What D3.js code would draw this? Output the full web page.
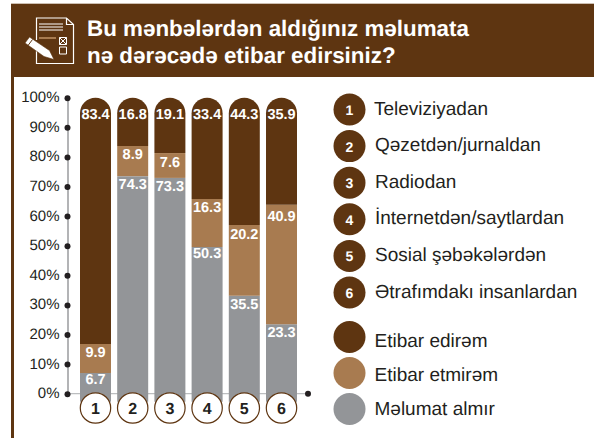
<!DOCTYPE html>
<meta charset="utf-8">
<style>
  html, body { margin: 0; padding: 0; background: #fff; }
  svg { display: block; font-family: "Liberation Sans", Arial, sans-serif; text-rendering: geometricPrecision; }
</style>
<script src="https://d3js.org/d3.v7.min.js"></script>
<div id="chart"></div>
<script>
// printed values, as labelled on the picture
var sources = ["1", "2", "3", "4", "5", "6"];
var noInfo = [6.7, 74.3, 73.3, 50.3, 35.5, 23.3];
var noTrust = [9.9, 8.9, 7.6, 16.3, 20.2, 40.9];
var trust = [83.4, 16.8, 19.1, 33.4, 44.3, 35.9];
// bar heights as they are drawn in the picture, not quite the same as the labels
var noInfoDrawn = [7.0, 73.5, 72.9, 49.6, 33.1, 23.5];
var noTrustDrawn = [9.8, 10.2, 8.4, 16.2, 23.9, 40.3];
var trustDrawn = [83.2, 16.3, 18.7, 34.2, 43.0, 36.2];
var yTicks = [0, 10, 20, 30, 40, 50, 60, 70, 80, 90, 100];
var sourceNames = ["Televiziyadan", "Qəzetdən/jurnaldan", "Radiodan", "İnternetdən/saytlardan", "Sosial şəbəkələrdən", "Ətrafımdakı insanlardan"];
var answerNames = ["Etibar edirəm", "Etibar etmirəm", "Məlumat almır"];
var titleLines = ["Bu mənbələrdən aldığınız məlumata", "nə dərəcədə etibar edirsiniz?"];

var brown = "#5e3511", tan = "#a87b50", grey = "#939598", ink = "#231f20";

var svg = d3.select("#chart").append("svg")
  .attr("width", 594)
  .attr("height", 438);

// header band and left edge
svg.append("rect").attr("x", 11).attr("y", 3).attr("width", 583).attr("height", 1).attr("fill", "#cdbfb2");
svg.append("rect").attr("x", 11).attr("y", 4).attr("width", 583).attr("height", 73).attr("fill", brown);
svg.append("rect").attr("x", 11).attr("y", 77).attr("width", 3).attr("height", 361).attr("fill", brown);

svg.selectAll(".title")
  .data(titleLines)
  .enter().append("text")
    .attr("class", "title")
    .attr("x", 87)
    .attr("y", function(d, i) { return 36 + i * 27; })
    .attr("fill", "#fff")
    .attr("font-size", 22.4)
    .attr("font-weight", "bold")
    .text(function(d) { return d; });

// form and pencil icon
var icon = svg.append("g").attr("fill", "none").attr("stroke", "#fff");
icon.append("path").attr("stroke-width", 1.2)
  .attr("d", "M36.5 40V18h30l7 6.5v39H36.5V50M66.5 18v6.5h7");
icon.append("path").attr("stroke-width", 1)
  .attr("d", "M39 24h24M39 27h24M39 30h24");
icon.append("path").attr("stroke", tan).attr("stroke-width", 2).attr("d", "M39 38h17");
icon.append("path").attr("stroke-width", 1)
  .attr("d", "M59.5 37.5h7v7h-7zM59.5 37.5l7 7M66.5 37.5l-7 7M59.5 47h7v7h-7z");
icon.append("path").attr("fill", "#fff").attr("stroke", brown).attr("stroke-width", 0.6)
  .attr("d", "M25 43l4.5-6 20 13.5 4.5 9-10-3z");
icon.append("path").attr("stroke", brown).attr("stroke-width", 1).attr("d", "M28 45.5l4.5-6");

// scales
var x = d3.scaleBand()
  .domain(sources)
  .range([80, 297])
  .paddingInner(0.167);

var y = d3.scaleLinear()
  .domain([0, 100])
  .range([393.7, 97.7]);

// x axis line goes under the bars
svg.append("line")
  .attr("x1", 67.5).attr("x2", 308)
  .attr("y1", y(0)).attr("y2", y(0))
  .attr("stroke", "#bcbec0")
  .attr("stroke-width", 1.2);
svg.append("circle").attr("cx", 308).attr("cy", y(0)).attr("r", 3).attr("fill", ink);

// y axis
var yAxis = svg.append("g")
  .attr("transform", "translate(67.5,0)")
  .call(d3.axisLeft(y).tickValues(yTicks).tickFormat(function(d) { return d + "%"; }).tickSize(0).tickPadding(8));
yAxis.select(".domain").attr("stroke", "#808285").attr("stroke-width", 1.2);
yAxis.selectAll(".tick text")
  .attr("font-family", "Liberation Sans")
  .attr("font-size", 15)
  .attr("dy", "0.27em")
  .attr("fill", ink);
yAxis.selectAll(".tick").append("circle").attr("r", 3).attr("fill", ink);

// stacked bars, bottom series first
var table = sources.map(function(s, i) {
  return {
    source: s,
    noInfo: noInfoDrawn[i],
    noTrust: noTrustDrawn[i],
    trust: trustDrawn[i],
    labels: {noInfo: noInfo[i], noTrust: noTrust[i], trust: trust[i]}
  };
});
var stack = d3.stack().keys(["noInfo", "noTrust", "trust"])(table);
var colors = {noInfo: grey, noTrust: tan, trust: brown};
// small label shifts seen in the picture
var labelNudge = {noInfo: [-2, 0, 0, -2, 0, 0], noTrust: [0, 0, 1, 0, 1, 3], trust: [0, 0, 0, 0, 0, 0]};

function barPath(d, key) {
  var x0 = x(d.data.source), w = x.bandwidth(), r = w / 2;
  var top = y(d[1]), bottom = y(d[0]);
  if (key == "trust") {
    return "M" + x0 + "," + bottom + "V" + (top + r) + "A" + r + "," + r + " 0 0 1 " + (x0 + w) + "," + (top + r) + "V" + bottom + "Z";
  }
  // the grey part runs on down behind the number circle
  if (key == "noInfo") bottom += 8;
  return "M" + x0 + "," + bottom + "V" + top + "H" + (x0 + w) + "V" + bottom + "Z";
}

stack.forEach(function(layer) {
  svg.selectAll(".bar-" + layer.key)
    .data(layer)
    .enter().append("path")
      .attr("class", "bar-" + layer.key)
      .attr("fill", colors[layer.key])
      .attr("d", function(d) { return barPath(d, layer.key); });
});

stack.forEach(function(layer) {
  svg.selectAll(".val-" + layer.key)
    .data(layer)
    .enter().append("text")
      .attr("class", "val-" + layer.key)
      .attr("x", function(d) { return x(d.data.source) + x.bandwidth() / 2; })
      .attr("y", function(d, i) { return (layer.key == "trust" ? 118.5 : y(d[1]) + 13) + labelNudge[layer.key][i]; })
      .attr("text-anchor", "middle")
      .attr("fill", "#fff")
      .attr("font-size", 14.5)
      .attr("font-weight", "bold")
      .text(function(d) { return d.data.labels[layer.key]; });
});

// number circles under the bars
var nums = svg.selectAll(".num")
  .data(sources)
  .enter().append("g")
    .attr("class", "num")
    .attr("transform", function(d) { return "translate(" + (x(d) + x.bandwidth() / 2) + ",408)"; });
nums.append("circle").attr("r", 15.2).attr("fill", "#fff").attr("stroke", brown).attr("stroke-width", 1.2);
nums.append("text")
  .attr("y", 6)
  .attr("text-anchor", "middle")
  .attr("fill", ink)
  .attr("font-size", 16)
  .attr("font-weight", "bold")
  .text(function(d) { return d; });

// legend for sources
var sourceY = d3.scalePoint().domain(sources).range([109.5, 292.5]);
var srcLegend = svg.selectAll(".src")
  .data(sourceNames)
  .enter().append("g")
    .attr("class", "src")
    .attr("transform", function(d, i) { return "translate(349.5," + sourceY(sources[i]) + ")"; });
srcLegend.append("circle").attr("r", 16).attr("fill", brown);
srcLegend.append("text")
  .attr("y", 5.5)
  .attr("text-anchor", "middle")
  .attr("fill", "#fff")
  .attr("font-size", 14)
  .attr("font-weight", "bold")
  .text(function(d, i) { return sources[i]; });
srcLegend.append("text")
  .attr("x", function(d, i) { return i == 0 ? 24.5 : 25.5; })
  .attr("y", 5)
  .attr("fill", ink)
  .attr("font-size", 19)
  .text(function(d) { return d; });

// legend for answers
var answerCy = [337, 373, 409];
var answerTextY = [347, 381, 415];
var answerColors = [brown, tan, grey];
svg.selectAll(".ans")
  .data(answerNames)
  .enter().append("circle")
    .attr("class", "ans")
    .attr("cx", 349.5)
    .attr("cy", function(d, i) { return answerCy[i]; })
    .attr("r", 16)
    .attr("fill", function(d, i) { return answerColors[i]; });
svg.selectAll(".ans-label")
  .data(answerNames)
  .enter().append("text")
    .attr("class", "ans-label")
    .attr("x", 374.5)
    .attr("y", function(d, i) { return answerTextY[i]; })
    .attr("fill", ink)
    .attr("font-size", 19)
    .text(function(d) { return d; });
</script>
